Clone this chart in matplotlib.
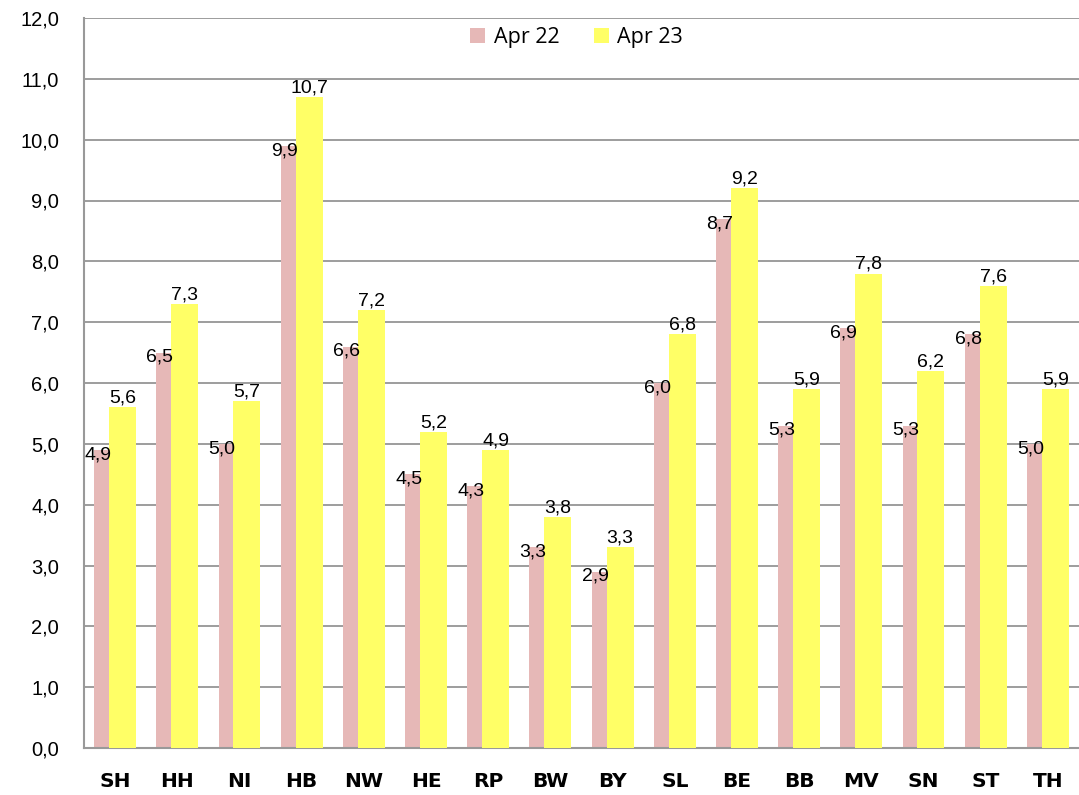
import numpy as np
import matplotlib.pyplot as plt

# Daten
regions = ['SH', 'HH', 'NI', 'HB', 'NW', 'HE', 'RP', 'BW', 'BY', 'SL',
           'BE', 'BB', 'MV', 'SN', 'ST', 'TH']
apr22 = [4.9, 6.5, 5.0, 9.9, 6.6, 4.5, 4.3, 3.3, 2.9, 6.0, 8.7, 5.3, 6.9, 5.3, 6.8, 5.0]
apr23 = [5.6, 7.3, 5.7, 10.7, 7.2, 5.2, 4.9, 3.8, 3.3, 6.8, 9.2, 5.9, 7.8, 6.2, 7.6, 5.9]

def fmt(v):
    return f'{v:.1f}'.replace('.', ',')

fig = plt.figure(figsize=(10.79, 7.95), dpi=100)
ax = fig.add_axes([84 / 1079, 47 / 795, 995 / 1079, 730 / 795])

x = np.arange(len(regions))
w = 0.434
off = 0.12
ax.bar(x - off, apr22, w, color='#e6b8b7', label='Apr 22', zorder=2)
ax.bar(x + off, apr23, w, color='#ffff66', label='Apr 23', zorder=3)

for i in range(len(regions)):
    ax.text(x[i] - off - 0.16, apr22[i] - 0.08, fmt(apr22[i]), ha='center', va='center',
            fontsize=14, family='Liberation Sans', zorder=4)
    ax.text(x[i] + off, apr23[i] + 0.01, fmt(apr23[i]), ha='center', va='bottom',
            fontsize=14, family='Liberation Sans', zorder=4)

ax.set_xlim(-0.5, len(regions) - 0.5)
ax.set_ylim(0, 12)
ax.set_yticks(np.arange(0, 12.1, 1))
ax.set_yticklabels([fmt(v) for v in np.arange(0, 12.1, 1)], family='Liberation Sans', fontsize=14.5)
ax.set_xticks(x)
ax.set_xticklabels(regions, fontsize=14.5, fontweight='bold', family='DejaVu Sans')
ax.tick_params(axis='y', length=0, pad=18)
ax.tick_params(axis='x', length=0, pad=17)
ax.grid(axis='y', color='#8c8c8c', linewidth=1.2, zorder=0)
ax.set_axisbelow(True)
for s in ['top', 'right']:
    ax.spines[s].set_visible(False)
for s in ['left', 'bottom']:
    ax.spines[s].set_color('#999999')
    ax.spines[s].set_linewidth(1.5)

ax.legend(loc='upper center', bbox_to_anchor=(0.495, 1.014), ncol=2, frameon=False,
          prop={'family': 'Open Sans', 'size': 15.5}, handlelength=0.7,
          handleheight=0.7, columnspacing=1.6, handletextpad=0.4)

fig.savefig('out.png', dpi=100)
